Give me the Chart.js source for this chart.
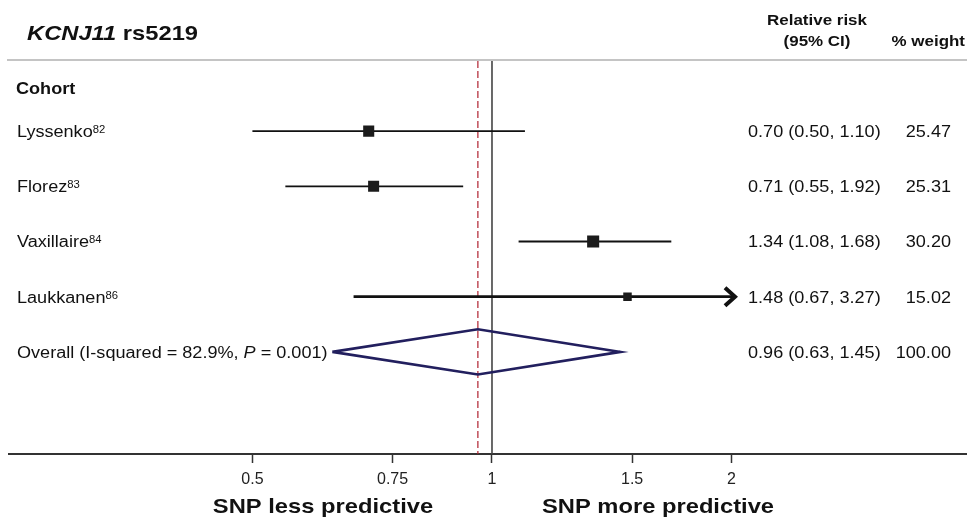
<!DOCTYPE html>
<html>
<head>
<meta charset="utf-8">
<script src="https://cdn.jsdelivr.net/npm/chart.js@4.4.0/dist/chart.umd.min.js"></script>
<style>
  html, body { margin: 0; padding: 0; background: #fff; }
  #wrap { width: 967px; height: 521px; position: relative; }
</style>
</head>
<body>
<div id="wrap"><canvas id="forest"></canvas></div>
<script>
// KCNJ11 rs5219 - forest plot of relative risk per cohort

const studies = ['Lyssenko', 'Florez', 'Vaxillaire', 'Laukkanen'];
const refNums = ['82', '83', '84', '86'];
const rr = [0.70, 0.71, 1.34, 1.48];
const ciLow = [0.50, 0.55, 1.08, 0.67];
const ciHigh = [1.10, 0.92, 1.68, 3.27]; // Florez whisker is drawn to ~0.92 in the figure
const ciText = ['0.70 (0.50, 1.10)', '0.71 (0.55, 1.92)', '1.34 (1.08, 1.68)', '1.48 (0.67, 3.27)'];
const weights = ['25.47', '25.31', '30.20', '15.02'];

const overallRR = 0.96;
const overallLow = 0.63;
const overallHigh = 1.45;
const overallText = '0.96 (0.63, 1.45)';
const overallWeight = '100.00';
const iSquared = '82.9%';
const pValue = '0.001';

const xTicks = [0.5, 0.75, 1, 1.5, 2];
const xMin = 0.2469, xMax = 3.856;
const arrowAt = 2.02;   // whiskers beyond this get an arrow
const yMin = -0.27, yMax = 6.85;

const FONT = '"Liberation Sans", Arial, sans-serif';
const SX = 1.13; // the figure's text is a bit stretched sideways

const rowY = studies.map((_, i) => i + 1);
const overallY = studies.length + 1;

// draw a run of text pieces [text, font, dy]
function runs(ctx, parts, x, y, align) {
  ctx.save();
  ctx.textBaseline = 'alphabetic';
  ctx.fillStyle = '#111';
  let total = 0;
  parts.forEach(p => { ctx.font = p[1]; total += ctx.measureText(p[0]).width * SX; });
  let cx = align === 'center' ? x - total / 2 : align === 'right' ? x - total : x;
  parts.forEach(p => {
    ctx.font = p[1];
    const w = ctx.measureText(p[0]).width * SX;
    ctx.save();
    ctx.translate(cx, y + (p[2] || 0));
    ctx.scale(SX, 1);
    ctx.fillText(p[0], 0, 0);
    ctx.restore();
    cx += w;
  });
  ctx.restore();
}

const textPlugin = {
  id: 'forestText',
  afterDraw(chart) {
    const ctx = chart.ctx;
    const xs = chart.scales.x, ys = chart.scales.y;
    const reg = '16px ' + FONT, sup = '10px ' + FONT;

    // header rule
    ctx.save();
    ctx.strokeStyle = '#c4c4c4';
    ctx.lineWidth = 2;
    ctx.beginPath(); ctx.moveTo(7, 60); ctx.lineTo(967, 60); ctx.stroke();
    // axis line runs on to the right edge
    ctx.strokeStyle = '#333';
    ctx.beginPath(); ctx.moveTo(chart.chartArea.right - 1, Math.round(xs.top)); ctx.lineTo(967, Math.round(xs.top)); ctx.stroke();
    ctx.restore();

    runs(ctx, [['KCNJ11', 'italic bold 21px ' + FONT], [' rs5219', 'bold 21px ' + FONT]], 27, 40, 'left');
    runs(ctx, [['Relative risk', 'bold 15px ' + FONT]], 817, 25, 'center');
    runs(ctx, [['(95% CI)', 'bold 15px ' + FONT]], 817, 46, 'center');
    runs(ctx, [['% weight', 'bold 15px ' + FONT]], 965, 46, 'right');
    runs(ctx, [['Cohort', 'bold 16px ' + FONT]], 16, 94, 'left');

    studies.forEach((s, i) => {
      const py = ys.getPixelForValue(rowY[i]) + 6;
      runs(ctx, [[s, reg], [refNums[i], sup, -4]], 17, py, 'left');
      runs(ctx, [[ciText[i], reg]], 748, py, 'left');
      runs(ctx, [[weights[i], reg]], 951, py, 'right');

      // arrow for clipped whisker
      if (ciHigh[i] > arrowAt) {
        const tip = xs.getPixelForValue(arrowAt);
        const cy = ys.getPixelForValue(rowY[i]);
        ctx.save();
        ctx.strokeStyle = '#111';
        ctx.lineWidth = 4;
        ctx.lineJoin = 'miter';
        ctx.beginPath();
        ctx.moveTo(tip - 10, cy - 9);
        ctx.lineTo(tip, cy);
        ctx.lineTo(tip - 10, cy + 9);
        ctx.stroke();
        ctx.restore();
      }
    });

    const oy = ys.getPixelForValue(overallY) + 6;
    runs(ctx, [['Overall (I-squared = ' + iSquared + ', ', reg], ['P', 'italic 16px ' + FONT], [' = ' + pValue + ')', reg]], 17, oy, 'left');
    runs(ctx, [[overallText, reg]], 748, oy, 'left');
    runs(ctx, [[overallWeight, reg]], 951, oy, 'right');

    runs(ctx, [['SNP less predictive', 'bold 21px ' + FONT]], 323, 513, 'center');
    runs(ctx, [['SNP more predictive', 'bold 21px ' + FONT]], 658, 513, 'center');
  }
};

const squareDs = {
  label: 'RR',
  data: rr.map((v, i) => ({ x: v, y: rowY[i] })),
  pointStyle: 'rect',
  pointRadius: weights.map(w => 1.55 * Math.sqrt(parseFloat(w))),
  pointBackgroundColor: '#1b1b1b',
  pointBorderWidth: 0,
  showLine: false
};

const ciDs = studies.map((s, i) => ({
  label: s,
  data: [{ x: ciLow[i], y: rowY[i] }, { x: Math.min(ciHigh[i], arrowAt), y: rowY[i] }],
  showLine: true,
  borderColor: '#111',
  borderWidth: ciHigh[i] > arrowAt ? 2.8 : 1.8,
  pointRadius: 0
}));

const diamondH = 0.41;
const diamondDs = {
  label: 'Overall',
  data: [
    { x: overallLow, y: overallY },
    { x: overallRR, y: overallY - diamondH },
    { x: overallHigh, y: overallY },
    { x: overallRR, y: overallY + diamondH },
    { x: overallLow, y: overallY }
  ],
  showLine: true,
  borderColor: '#221f5e',
  borderWidth: 2.6,
  borderJoinStyle: 'miter',
  pointRadius: 0,
  fill: false
};

const nullLineDs = {
  label: 'null',
  data: [{ x: 1, y: yMin }, { x: 1, y: yMax }],
  showLine: true,
  borderColor: '#444',
  borderWidth: 1.6,
  pointRadius: 0
};

const estLineDs = {
  label: 'estimate',
  data: [{ x: overallRR, y: yMin }, { x: overallRR, y: yMax }],
  showLine: true,
  borderColor: '#b0202e',
  borderWidth: 1.2,
  borderDash: [7, 3],
  pointRadius: 0
};

new Chart(document.getElementById('forest').getContext('2d'), {
  type: 'scatter',
  data: { datasets: [squareDs, ...ciDs, diamondDs, nullLineDs, estLineDs] },
  options: {
    responsive: true,
    maintainAspectRatio: false,
    animation: false,
    layout: { padding: { left: 7, right: 0, top: 61, bottom: 0 } },
    plugins: { legend: { display: false }, tooltip: { enabled: false } },
    scales: {
      x: {
        type: 'logarithmic',
        min: xMin,
        max: xMax,
        afterBuildTicks: s => { s.ticks = xTicks.map(v => ({ value: v })); },
        afterFit: s => { s.height = 67; },
        ticks: {
          autoSkip: false,
          maxRotation: 0,
          padding: 7,
          color: '#222',
          font: { family: FONT, size: 16 },
          callback: v => String(v)
        },
        grid: { drawOnChartArea: false, drawTicks: true, tickLength: 9, tickColor: '#333', tickWidth: 1.5 },
        border: { display: true, color: '#333', width: 2 }
      },
      y: { type: 'linear', reverse: true, min: yMin, max: yMax, display: false }
    }
  },
  plugins: [textPlugin]
});
</script>
</body>
</html>
